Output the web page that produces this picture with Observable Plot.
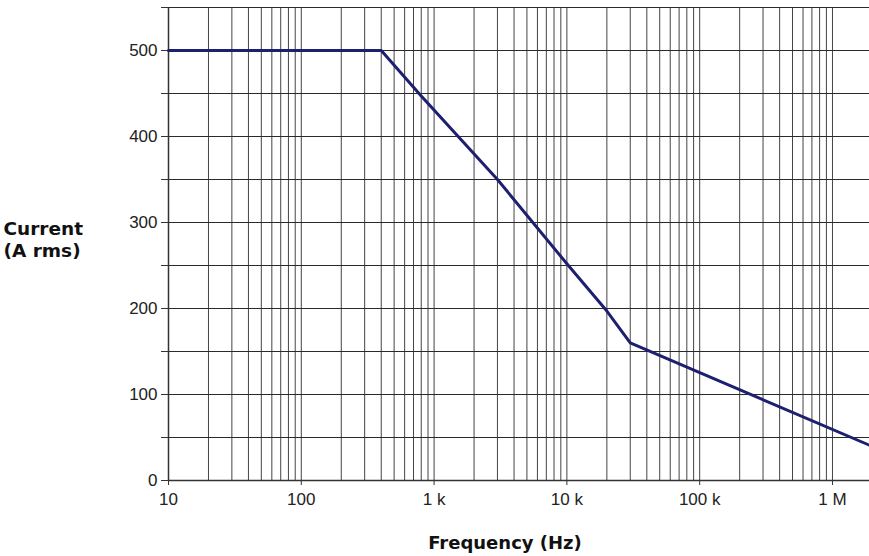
<!DOCTYPE html>
<html>
<head>
<meta charset="utf-8">
<script src="https://cdn.jsdelivr.net/npm/d3@7"></script>
<script src="https://cdn.jsdelivr.net/npm/@observablehq/plot@0.6"></script>
<style>
  html, body { margin: 0; padding: 0; background: #fff; }
  #chart g[aria-label="y-axis tick label"],
  #chart g[aria-label="x-axis tick label"] { font-size: 17px !important; }
</style>
</head>
<body>
<div id="chart"></div>
<script>
// Data
const frequency = [10, 400, 800, 3000, 10000, 20000, 30000, 1900000];
const current   = [500, 500, 447, 350, 252, 197, 160, 41];

const xDecadeTicks = [10, 100, 1000, 10000, 100000, 1000000];
const xTickLabels  = ["10", "100", "1 k", "10 k", "100 k", "1 M"];
const yGridTicks   = [0, 50, 100, 150, 200, 250, 300, 350, 400, 450, 500, 550];
const yLabelTicks  = [0, 100, 200, 300, 400, 500];

const xDomain = [10, 1900000];
const xMinorTicks = d3.scaleLog().domain(xDomain).ticks();

const data = frequency.map((f, i) => ({f, c: current[i]}));

const chart = Plot.plot({
  width: 869,
  height: 556,
  marginLeft: 168,
  marginRight: 0,
  marginTop: 7,
  marginBottom: 76,
  style: {fontFamily: "'Liberation Sans', Arial, sans-serif", fontSize: "17px", background: "#fff", color: "#222"},
  x: {type: "log", domain: xDomain},
  y: {domain: [0, 550]},
  marks: [
    Plot.gridX(xMinorTicks, {stroke: "#444", strokeOpacity: 1, strokeWidth: 1}),
    Plot.gridY(yGridTicks, {stroke: "#2a2a2a", strokeOpacity: 1, strokeWidth: 1}),
    Plot.axisY(yGridTicks, {
      tickSize: 7, tickPadding: 4, stroke: "#333", fontSize: 17,
      tickFormat: d => yLabelTicks.includes(d) ? String(d) : "",
      label: null
    }),
    Plot.axisX(xDecadeTicks, {
      tickSize: 5, tickPadding: 7, stroke: "#333", fontSize: 17,
      tickFormat: d => xTickLabels[xDecadeTicks.indexOf(d)],
      label: null
    }),
    Plot.ruleX([10], {stroke: "#333", strokeWidth: 1.5}),
    Plot.ruleY([0], {stroke: "#333", strokeWidth: 1.5}),
    Plot.line(data, {x: "f", y: "c", stroke: "#1f1f70", strokeWidth: 3}),
    Plot.text(["Current\n(A rms)"], {
      frameAnchor: "left", dx: -165, dy: -5, textAnchor: "start",
      fontFamily: "'DejaVu Sans', Verdana, sans-serif", fontWeight: "bold",
      fontSize: 18.5, lineHeight: 1.2, fill: "#111"
    }),
    Plot.text(["Frequency (Hz)"], {
      frameAnchor: "bottom", dx: -14, dy: 63, lineAnchor: "middle",
      fontFamily: "'DejaVu Sans', Verdana, sans-serif", fontWeight: "bold",
      fontSize: 18, fill: "#111"
    })
  ]
});
document.getElementById("chart").appendChild(chart);
</script>
</body>
</html>
